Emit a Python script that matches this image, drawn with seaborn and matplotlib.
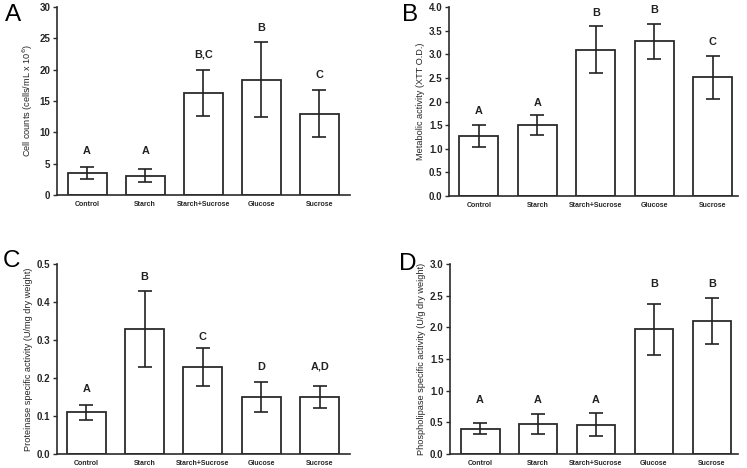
import matplotlib
matplotlib.use("Agg")
import matplotlib.pyplot as plt
import seaborn as sns
import numpy as np
import pandas as pd

sns.set_theme(style="ticks")
plt.rcParams['font.family'] = ['Liberation Sans', 'DejaVu Sans']

categories = ["Control", "Starch", "Starch+Sucrose", "Glucose", "Sucrose"]

# Panel A: cell counts
a_mean = [3.5, 3.1, 16.3, 18.4, 13.0]
a_err = [0.9, 1.0, 3.7, 6.0, 3.8]
a_letters = ["A", "A", "B,C", "B", "C"]
a_letter_y = [7.0, 7.0, 22.4, 26.7, 19.1]

# Panel B: metabolic activity
b_mean = [1.27, 1.50, 3.10, 3.27, 2.51]
b_err = [0.24, 0.21, 0.49, 0.38, 0.46]
b_letters = ["A", "A", "B", "B", "C"]
b_letter_y = [1.80, 1.96, 3.87, 3.93, 3.25]

# Panel C: proteinase
c_mean = [0.11, 0.33, 0.23, 0.15, 0.15]
c_err = [0.02, 0.10, 0.05, 0.04, 0.03]
c_letters = ["A", "B", "C", "D", "A,D"]
c_letter_y = [0.170, 0.467, 0.309, 0.230, 0.230]

# Panel D: phospholipase
d_mean = [0.40, 0.47, 0.46, 1.97, 2.10]
d_err = [0.09, 0.16, 0.18, 0.40, 0.36]
d_letters = ["A", "A", "A", "B", "B"]
d_letter_y = [0.854, 0.854, 0.854, 2.69, 2.69]

ylabels = ["Cell counts (cells/mL x 10$^{6}$)",
           "Metabolic activity (XTT O.D.)",
           "Proteinase specific activity (U/mg dry weight)",
           "Phospholipase specific activity (U/g dry weight)"]
yticks = [np.arange(0, 31, 5), np.arange(0, 4.01, 0.5),
          np.arange(0, 0.51, 0.1), np.arange(0, 3.01, 0.5)]
ytickfmt = ["{:.0f}", "{:.1f}", "{:.1f}", "{:.1f}"]
panel_names = ["A", "B", "C", "D"]

W, H = 747, 468
fig = plt.figure(figsize=(W / 100, H / 100), dpi=100)
fig.patch.set_facecolor("white")

# axes boxes in pixels: left, top, right, bottom
boxes = [(57, 7, 350, 195), (449, 7, 738, 196), (57, 264, 350, 454), (450, 264, 738, 454)]
xlims = [(-0.52, 4.53), (-0.51, 4.43), (-0.50, 4.52), (-0.52, 4.45)]
label_pos = [(5, 4), (402, 4), (3, 250), (399, 253)]

datasets = [(a_mean, a_err, a_letters, a_letter_y),
            (b_mean, b_err, b_letters, b_letter_y),
            (c_mean, c_err, c_letters, c_letter_y),
            (d_mean, d_err, d_letters, d_letter_y)]

edge = "#2b2b2b"
for i, (means, errs, letters, ly) in enumerate(datasets):
    l, t, r, b = boxes[i]
    ax = fig.add_axes([l / W, 1 - b / H, (r - l) / W, (b - t) / H])
    df = pd.DataFrame({"cat": categories, "val": means})
    sns.barplot(data=df, x="cat", y="val", ax=ax, color="white",
                edgecolor=edge, linewidth=1.3, width=0.67, errorbar=None,
                saturation=1)
    ax.errorbar(range(len(categories)), means, yerr=errs, fmt="none",
                ecolor="#222222", elinewidth=1.2, capsize=5, capthick=1.2, zorder=5)
    for j, (txt, y) in enumerate(zip(letters, ly)):
        ax.text(j, y, txt, ha="center", va="center", fontsize=7.8,
                fontweight="bold", color="#222222")
    ax.set_xlim(*xlims[i])
    ax.set_ylim(yticks[i][0], yticks[i][-1])
    ax.set_yticks(yticks[i])
    ax.set_yticklabels([ytickfmt[i].format(v) for v in yticks[i]],
                       fontsize=7, fontweight="bold")
    ax.set_xticks(range(len(categories)))
    ax.set_xticklabels(categories, fontsize=5, fontweight="bold")
    ax.tick_params(axis="x", length=0, pad=4)
    ax.tick_params(axis="y", length=3.2, width=1.0, color=edge, pad=1.5)
    ax.set_xlabel("")
    ax.set_ylabel(ylabels[i], fontsize=6.6, labelpad=3)
    for s in ["top", "right"]:
        ax.spines[s].set_visible(False)
    for s in ["left", "bottom"]:
        ax.spines[s].set_color(edge)
        ax.spines[s].set_linewidth(1.2)
    ax.set_facecolor("white")
    px, py = label_pos[i]
    fig.text(px / W, 1 - py / H, panel_names[i], fontsize=17.5, ha="left", va="top",
             color="black")

fig.savefig("out.png", dpi=100, facecolor="white")
